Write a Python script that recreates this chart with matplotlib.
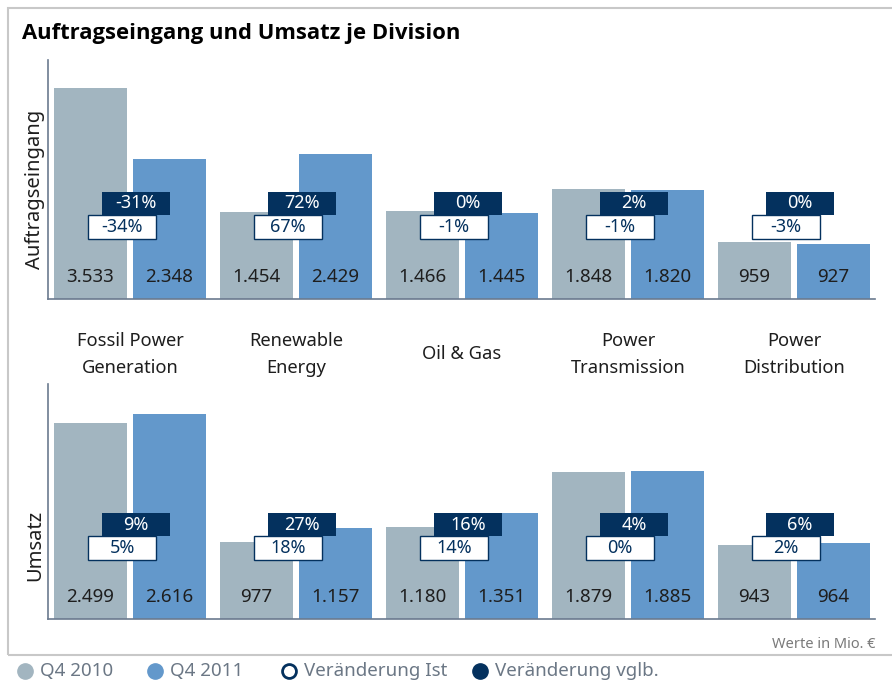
import matplotlib
matplotlib.use('Agg')
import matplotlib.pyplot as plt
import matplotlib.transforms as mtransforms
from matplotlib.patches import Rectangle
from matplotlib.lines import Line2D
import numpy as np

plt.rcParams['font.family'] = ['Noto Sans', 'DejaVu Sans']

# data (Mio. EUR)
divisions = ['Fossil Power\nGeneration', 'Renewable\nEnergy', 'Oil & Gas',
             'Power\nTransmission', 'Power\nDistribution']
orders_q4_2010 = [3533, 1454, 1466, 1848, 959]
orders_q4_2011 = [2348, 2429, 1445, 1820, 927]
orders_chg_ist = [-34, 67, -1, -1, -3]
orders_chg_vglb = [-31, 72, 0, 2, 0]
sales_q4_2010 = [2499, 977, 1180, 1879, 943]
sales_q4_2011 = [2616, 1157, 1351, 1885, 964]
sales_chg_ist = [5, 18, 14, 0, 2]
sales_chg_vglb = [9, 27, 16, 4, 6]

legend_labels = ['Q4 2010', 'Q4 2011', 'Veränderung Ist', 'Veränderung vglb.']

GRAY = '#A2B5C0'
BLUE = '#6398CB'
NAVY = '#04315E'
AXIS = '#6B7A8F'
TXT = '#1E1E1E'

W, H = 892, 682


def fmt(v):
    return f'{v:,}'.replace(',', '.')


def panel(ax, v2010, v2011, chg_ist, chg_vglb, ymax):
    x = np.arange(len(v2010))
    ax.bar(x - 0.238, v2010, width=0.44, color=GRAY)
    ax.bar(x + 0.238, v2011, width=0.44, color=BLUE)
    ax.set_xlim(-0.494, 4.488)
    ax.set_ylim(0, ymax)
    for s in ['top', 'right']:
        ax.spines[s].set_visible(False)
    for s in ['left', 'bottom']:
        ax.spines[s].set_color(AXIS)
        ax.spines[s].set_linewidth(1.2)
    ax.set_xticks([])
    ax.set_yticks([])
    trans = mtransforms.blended_transform_factory(ax.transData, ax.transAxes)
    for i in range(len(x)):
        ax.text(x[i] - 0.238, 0.092, fmt(v2010[i]), transform=trans,
                ha='center', va='center', fontsize=13.5, color=TXT)
        ax.text(x[i] + 0.238, 0.092, fmt(v2011[i]), transform=trans,
                ha='center', va='center', fontsize=13.5, color=TXT)
        # dark box: comparable change
        ax.add_patch(Rectangle((x[i] - 0.169, 0.352), 0.41, 0.097,
                               transform=trans, fc=NAVY, ec='none', zorder=3))
        ax.text(x[i] + 0.036, 0.4, f'{chg_vglb[i]}%', transform=trans,
                ha='center', va='center', fontsize=13, color='white', zorder=4)
        # white box: actual change
        ax.add_patch(Rectangle((x[i] - 0.253, 0.252), 0.41, 0.1,
                               transform=trans, fc='white', ec=NAVY, lw=1, zorder=5))
        ax.text(x[i] - 0.048, 0.302, f'{chg_ist[i]}%', transform=trans,
                ha='center', va='center', fontsize=13, color=NAVY, zorder=6)
    return trans


fig = plt.figure(figsize=(W / 100, H / 100), dpi=100)

ax_top = fig.add_axes([48 / W, 1 - 299 / H, (875 - 48) / W, 239 / H])
ax_bot = fig.add_axes([48 / W, 1 - 619 / H, (875 - 48) / W, 235 / H])

trans_top = panel(ax_top, orders_q4_2010, orders_q4_2011, orders_chg_ist, orders_chg_vglb, 4000)
panel(ax_bot, sales_q4_2010, sales_q4_2011, sales_chg_ist, sales_chg_vglb, 3000)

for i, name in enumerate(divisions):
    ax_top.text(i, -0.232, name, transform=trans_top, ha='center', va='center',
                fontsize=13.2, color=TXT, linespacing=1.62)

# frame
fig.add_artist(Rectangle((8 / W, 1 - 655 / H), 1.0, (655 - 8) / H,
                         transform=fig.transFigure, fc='none', ec='#C8C8C8',
                         lw=1.5, clip_on=False))

fig.text(22 / W, 1 - 33 / H, 'Auftragseingang und Umsatz je Division',
         fontsize=15.8, fontweight='bold', family=['Open Sans', 'DejaVu Sans'],
         color='black', ha='left', va='center')

fig.text(35 / W, 1 - 189 / H, 'Auftragseingang', rotation=90, ha='center',
         va='center', fontsize=14.5, color=TXT)
fig.text(35 / W, 1 - 545 / H, 'Umsatz', rotation=90, ha='center',
         va='center', fontsize=14.5, color=TXT)

fig.text(875 / W, 1 - 645 / H, 'Werte in Mio. €', ha='right', va='center',
         fontsize=10.5, color='#7A7A7A')

# legend, drawn by hand to keep the original spacing
legend_x = [25, 155, 289, 480]
legend_face = [GRAY, BLUE, 'white', NAVY]
legend_edge = [GRAY, BLUE, NAVY, NAVY]
ly = 1 - 671 / H
for xp, lab, fc, ec in zip(legend_x, legend_labels, legend_face, legend_edge):
    fig.add_artist(Line2D([xp / W], [ly], ls='none', marker='o',
                          ms=11 if fc != 'white' else 10, mfc=fc, mec=ec,
                          mew=2 if fc == 'white' else 1,
                          transform=fig.transFigure))
    fig.text((xp + 15) / W, ly, lab, ha='left', va='center',
             fontsize=13.5, color='#6B7785')

fig.savefig('out.png', dpi=100)
